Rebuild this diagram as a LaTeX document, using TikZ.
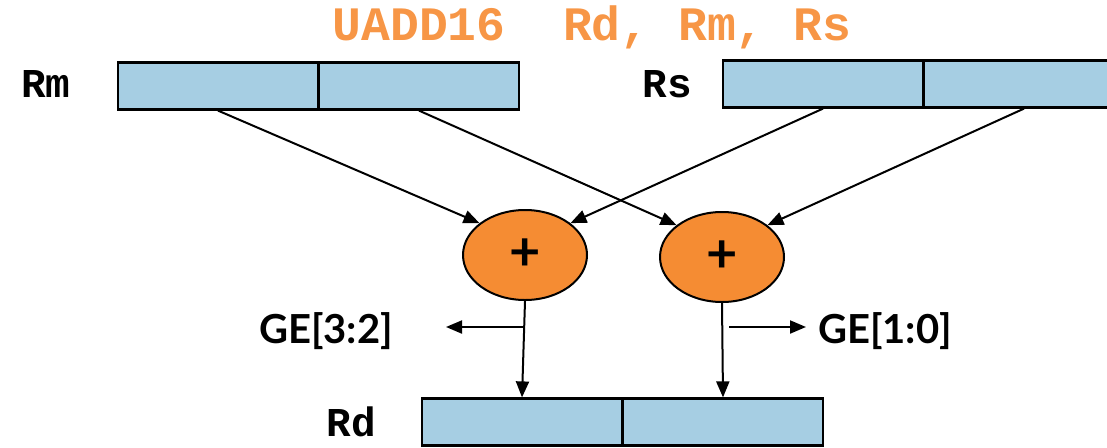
\documentclass[tikz,border=0pt]{standalone}
\usepackage{fontspec}
\setmainfont{Lato}
\newfontfamily\monofont{Liberation Mono}
\usetikzlibrary{arrows.meta,shapes.geometric}
\definecolor{regblue}{RGB}{166,206,227}
\definecolor{addorange}{RGB}{245,140,51}
\definecolor{titleorange}{RGB}{247,150,70}
\tikzset{
  half/.style={draw=black, line width=2.2pt, fill=regblue, rectangle,
    minimum width=200pt, minimum height=47pt, inner sep=0pt},
  adder/.style={draw=black, line width=2pt, fill=addorange, ellipse,
    minimum width=124pt, minimum height=90pt, inner sep=0pt,
    font=\fontsize{54}{54}\selectfont\bfseries},
  reglabel/.style={font=\monofont\fontsize{41}{41}\selectfont\bfseries, anchor=base},
  flag/.style={font=\fontsize{40}{40}\selectfont\bfseries, anchor=base},
  wire/.style={line width=2pt, -{Triangle[length=16pt,width=13pt]}},
}
\begin{document}
\begin{tikzpicture}[x=1pt,y=-1pt]
\useasboundingbox (0,0) rectangle (1107,447);
\clip (0,0) rectangle (1107,447);

% instruction title
\node[font=\monofont\fontsize{48}{48}\selectfont\bfseries, text=titleorange, anchor=base]
  (title) at (592,40) {UADD16~~Rd,~Rm,~Rs};

% source register Rm
\node[reglabel] (rmlbl) at (46,97) {Rm};
\node[half] (rmA) at (218,86) {};
\node[half] (rmB) at (419,86) {};

% source register Rs
\node[reglabel] (rslbl) at (667,97) {Rs};
\node[half] (rsA) at (823,84) {};
\node[half] (rsB) at (1024,84) {};

% adders
\node[adder] (addL) at (525,255) {+};
\node[adder] (addR) at (722,257) {+};

% destination register Rd
\node[reglabel] (rdlbl) at (351,436) {Rd};
\node[half] (rdA) at (522,422) {};
\node[half] (rdB) at (723,422) {};

% operand paths
\draw[wire] (rmA.south) -- (addL.145);
\draw[wire] (rsA.south) -- (addL.35);
\draw[wire] (rmB.south) -- (addR.145);
\draw[wire] (rsB.south) -- (addR.35);

% results into Rd
\draw[wire] (addL.south) -- (rdA.north);
\draw[wire] (addR.south) -- (rdB.north);

% GE flag outputs
\node[flag] (geL) at (326,343) {GE[3:2]};
\node[flag] (geR) at (885,343) {GE[1:0]};
\coordinate (geLsrc) at (524,327);
\coordinate (geLend) at (446,327);
\coordinate (geRsrc) at (729,327);
\coordinate (geRend) at (806,327);
\draw[wire] (geLsrc) -- (geLend);
\draw[wire] (geRsrc) -- (geRend);
\end{tikzpicture}
\end{document}
